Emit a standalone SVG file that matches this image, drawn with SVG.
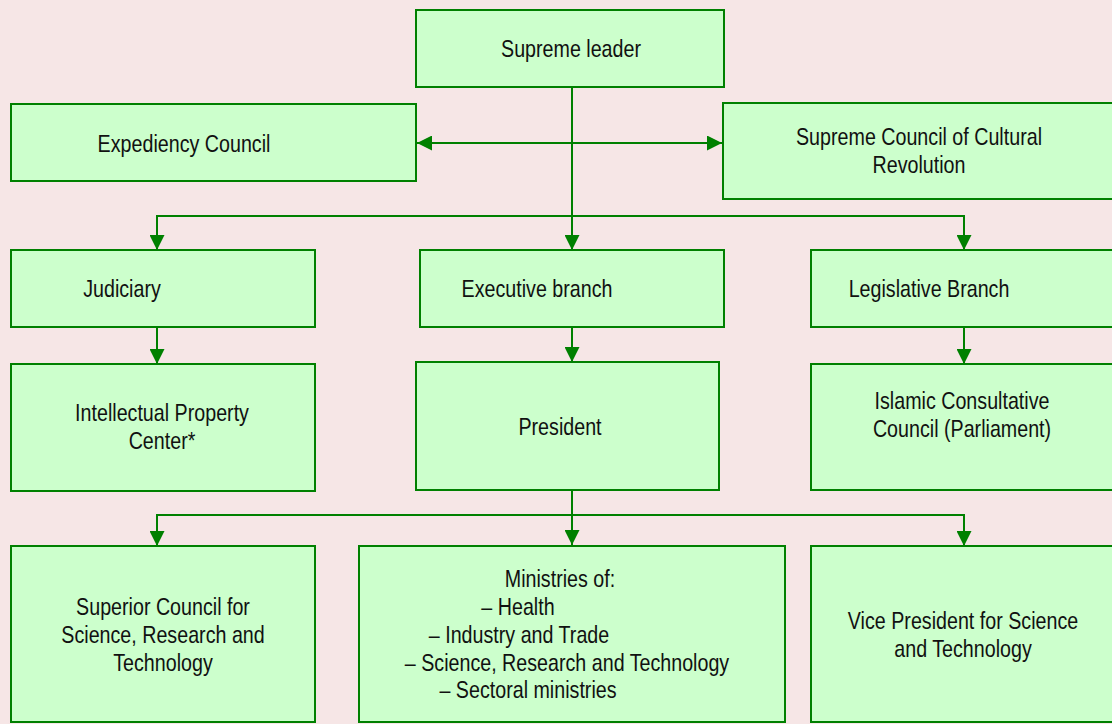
<svg xmlns="http://www.w3.org/2000/svg" width="1112" height="724" viewBox="0 0 1112 724">
<style>
.box{fill:#CCFFCC;stroke:#008000;stroke-width:2}
.lbl{font-family:"Liberation Sans",Arial,sans-serif;font-size:24px;fill:#111;text-anchor:middle}
.con{fill:none;stroke:#008000;stroke-width:2}
</style>
<defs>
<marker id="ah" viewBox="0 0 15 15" refX="15" refY="7.5" markerWidth="15" markerHeight="15" markerUnits="userSpaceOnUse" orient="auto-start-reverse">
<path d="M0,0 L15,7.5 L0,15 z" fill="#008000"/>
</marker>
</defs>
<rect x="0" y="0" width="1112" height="724" fill="#F6E6E6"/>
<g id="connectors">
<path class="con" d="M572,87 V250" marker-end="url(#ah)"/>
<path class="con" d="M417,143 H722" marker-start="url(#ah)" marker-end="url(#ah)"/>
<path class="con" d="M157,250 V216 H964 V250" marker-start="url(#ah)" marker-end="url(#ah)"/>
<path class="con" d="M157,327 V364" marker-end="url(#ah)"/>
<path class="con" d="M572,327 V362" marker-end="url(#ah)"/>
<path class="con" d="M964,327 V364" marker-end="url(#ah)"/>
<path class="con" d="M572,490 V545" marker-end="url(#ah)"/>
<path class="con" d="M157,546 V515 H964 V546" marker-start="url(#ah)" marker-end="url(#ah)"/>
</g>
<g id="supreme-leader">
<rect class="box" x="416" y="10" width="308" height="77"/>
<text class="lbl" transform="translate(571,57) scale(0.82,1)">Supreme leader</text>
</g>
<g id="expediency-council">
<rect class="box" x="11" y="104" width="405" height="77"/>
<text class="lbl" transform="translate(184,152) scale(0.82,1)">Expediency Council</text>
</g>
<g id="supreme-council-cultural-revolution">
<rect class="box" x="723" y="103" width="400" height="96"/>
<text class="lbl" transform="translate(919,145) scale(0.82,1)">Supreme Council of Cultural</text>
<text class="lbl" transform="translate(919,173) scale(0.82,1)">Revolution</text>
</g>
<g id="judiciary">
<rect class="box" x="11" y="250" width="304" height="77"/>
<text class="lbl" transform="translate(122,297) scale(0.82,1)">Judiciary</text>
</g>
<g id="executive-branch">
<rect class="box" x="420" y="250" width="304" height="77"/>
<text class="lbl" transform="translate(537,297) scale(0.82,1)">Executive branch</text>
</g>
<g id="legislative-branch">
<rect class="box" x="811" y="250" width="310" height="77"/>
<text class="lbl" transform="translate(929,297) scale(0.82,1)">Legislative Branch</text>
</g>
<g id="intellectual-property-center">
<rect class="box" x="11" y="364" width="304" height="127"/>
<text class="lbl" transform="translate(162,421) scale(0.82,1)">Intellectual Property</text>
<text class="lbl" transform="translate(162,449) scale(0.82,1)">Center*</text>
</g>
<g id="president">
<rect class="box" x="416" y="362" width="303" height="128"/>
<text class="lbl" transform="translate(560,435) scale(0.82,1)">President</text>
</g>
<g id="islamic-consultative-council">
<rect class="box" x="811" y="364" width="310" height="126"/>
<text class="lbl" transform="translate(962,409) scale(0.82,1)">Islamic Consultative</text>
<text class="lbl" transform="translate(962,437) scale(0.82,1)">Council (Parliament)</text>
</g>
<g id="superior-council">
<rect class="box" x="11" y="546" width="304" height="176"/>
<text class="lbl" transform="translate(163,615) scale(0.82,1)">Superior Council for</text>
<text class="lbl" transform="translate(163,643) scale(0.82,1)">Science, Research and</text>
<text class="lbl" transform="translate(163,671) scale(0.82,1)">Technology</text>
</g>
<g id="ministries">
<rect class="box" x="359" y="546" width="426" height="176"/>
<text class="lbl" transform="translate(560,587) scale(0.82,1)">Ministries of:</text>
<text class="lbl" transform="translate(518,615) scale(0.82,1)">– Health</text>
<text class="lbl" transform="translate(519,643) scale(0.82,1)">– Industry and Trade</text>
<text class="lbl" transform="translate(567,671) scale(0.82,1)">– Science, Research and Technology</text>
<text class="lbl" transform="translate(528,698) scale(0.82,1)">– Sectoral ministries</text>
</g>
<g id="vice-president">
<rect class="box" x="811" y="546" width="310" height="176"/>
<text class="lbl" transform="translate(963,629) scale(0.82,1)">Vice President for Science</text>
<text class="lbl" transform="translate(963,657) scale(0.82,1)">and Technology</text>
</g>
</svg>
